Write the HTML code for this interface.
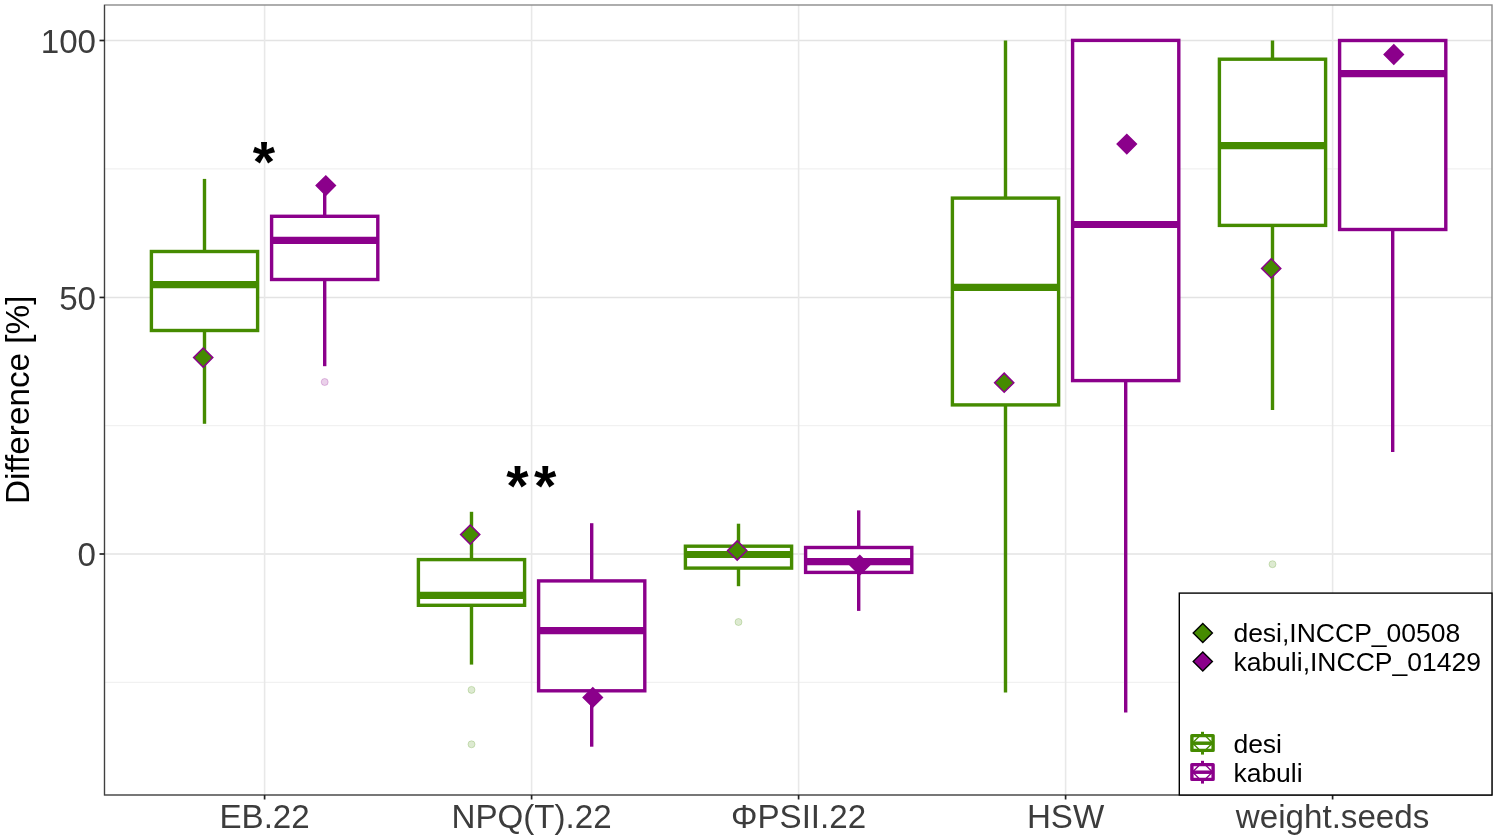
<!DOCTYPE html>
<html lang="en"><head><meta charset="utf-8"><title>Difference [%] boxplot</title>
<style>html,body{margin:0;padding:0;background:#fff;}body{width:1498px;height:840px;overflow:hidden;}svg{display:block;}text{font-family:"Liberation Sans",Arial,Helvetica,sans-serif;}</style></head><body>
<svg width="1498" height="840" viewBox="0 0 1498 840">
<rect x="0" y="0" width="1498" height="840" fill="#ffffff"/>
<g stroke="#f1f1f1" stroke-width="1.4">
<line x1="104.5" x2="1492.0" y1="168.9" y2="168.9"/>
<line x1="104.5" x2="1492.0" y1="425.6" y2="425.6"/>
<line x1="104.5" x2="1492.0" y1="682.4" y2="682.4"/>
</g>
<g stroke="#e3e3e3" stroke-width="1.6">
<line x1="104.5" x2="1492.0" y1="40.5" y2="40.5"/>
<line x1="104.5" x2="1492.0" y1="297.45" y2="297.45"/>
<line x1="104.5" x2="1492.0" y1="554.0" y2="554.0"/>
</g>
<g stroke="#e8e8e8" stroke-width="1.6">
<line x1="264.6" x2="264.6" y1="5.0" y2="795.0"/>
<line x1="531.6" x2="531.6" y1="5.0" y2="795.0"/>
<line x1="798.6" x2="798.6" y1="5.0" y2="795.0"/>
<line x1="1065.6" x2="1065.6" y1="5.0" y2="795.0"/>
<line x1="1332.6" x2="1332.6" y1="5.0" y2="795.0"/>
</g>
<g stroke="#458B00" fill="none">
<line x1="204.5" x2="204.5" y1="178.9" y2="251.5" stroke-width="3.4"/>
<line x1="204.5" x2="204.5" y1="330.5" y2="423.8" stroke-width="3.4"/>
<rect x="151.4" y="251.5" width="106.2" height="79.0" fill="#ffffff" stroke-width="3.4"/>
<line x1="151.4" x2="257.6" y1="284.6" y2="284.6" stroke-width="7.2"/>
</g>
<g stroke="#8B008B" fill="none">
<line x1="324.7" x2="324.7" y1="183.0" y2="216.3" stroke-width="3.4"/>
<line x1="324.7" x2="324.7" y1="279.5" y2="366.2" stroke-width="3.4"/>
<rect x="271.6" y="216.3" width="106.2" height="63.2" fill="#ffffff" stroke-width="3.4"/>
<line x1="271.6" x2="377.8" y1="240.4" y2="240.4" stroke-width="7.2"/>
</g>
<circle cx="324.7" cy="382.0" r="3.5" fill="#8B008B" fill-opacity="0.18" stroke="#8B008B" stroke-opacity="0.22" stroke-width="1"/>
<g stroke="#458B00" fill="none">
<line x1="471.5" x2="471.5" y1="511.8" y2="559.6" stroke-width="3.4"/>
<line x1="471.5" x2="471.5" y1="605.3" y2="664.6" stroke-width="3.4"/>
<rect x="418.4" y="559.6" width="106.2" height="45.7" fill="#ffffff" stroke-width="3.4"/>
<line x1="418.4" x2="524.6" y1="595.3" y2="595.3" stroke-width="7.2"/>
</g>
<circle cx="471.5" cy="689.9" r="3.5" fill="#458B00" fill-opacity="0.18" stroke="#458B00" stroke-opacity="0.22" stroke-width="1"/>
<circle cx="471.5" cy="744.3" r="3.5" fill="#458B00" fill-opacity="0.18" stroke="#458B00" stroke-opacity="0.22" stroke-width="1"/>
<g stroke="#8B008B" fill="none">
<line x1="591.7" x2="591.7" y1="523.2" y2="580.9" stroke-width="3.4"/>
<line x1="591.7" x2="591.7" y1="690.8" y2="746.7" stroke-width="3.4"/>
<rect x="538.6" y="580.9" width="106.2" height="109.9" fill="#ffffff" stroke-width="3.4"/>
<line x1="538.6" x2="644.8" y1="630.7" y2="630.7" stroke-width="7.2"/>
</g>
<g stroke="#458B00" fill="none">
<line x1="738.5" x2="738.5" y1="523.7" y2="546.2" stroke-width="3.4"/>
<line x1="738.5" x2="738.5" y1="568.1" y2="586.2" stroke-width="3.4"/>
<rect x="685.4" y="546.2" width="106.2" height="21.9" fill="#ffffff" stroke-width="3.4"/>
<line x1="685.4" x2="791.6" y1="554.5" y2="554.5" stroke-width="7.2"/>
</g>
<circle cx="738.5" cy="622.0" r="3.5" fill="#458B00" fill-opacity="0.18" stroke="#458B00" stroke-opacity="0.22" stroke-width="1"/>
<g stroke="#8B008B" fill="none">
<line x1="858.7" x2="858.7" y1="510.4" y2="547.5" stroke-width="3.4"/>
<line x1="858.7" x2="858.7" y1="572.4" y2="610.9" stroke-width="3.4"/>
<rect x="805.6" y="547.5" width="106.2" height="24.9" fill="#ffffff" stroke-width="3.4"/>
<line x1="805.6" x2="911.8" y1="561.7" y2="561.7" stroke-width="7.2"/>
</g>
<g stroke="#458B00" fill="none">
<line x1="1005.5" x2="1005.5" y1="40.4" y2="198.1" stroke-width="3.4"/>
<line x1="1005.5" x2="1005.5" y1="404.9" y2="692.4" stroke-width="3.4"/>
<rect x="952.4" y="198.1" width="106.2" height="206.8" fill="#ffffff" stroke-width="3.4"/>
<line x1="952.4" x2="1058.6" y1="287.4" y2="287.4" stroke-width="7.2"/>
</g>
<g stroke="#8B008B" fill="none">
<line x1="1125.7" x2="1125.7" y1="380.6" y2="712.6" stroke-width="3.4"/>
<rect x="1072.6" y="40.4" width="106.2" height="340.2" fill="#ffffff" stroke-width="3.4"/>
<line x1="1072.6" x2="1178.8" y1="224.5" y2="224.5" stroke-width="7.2"/>
</g>
<g stroke="#458B00" fill="none">
<line x1="1272.5" x2="1272.5" y1="40.5" y2="59.2" stroke-width="3.4"/>
<line x1="1272.5" x2="1272.5" y1="225.4" y2="410.0" stroke-width="3.4"/>
<rect x="1219.4" y="59.2" width="106.2" height="166.2" fill="#ffffff" stroke-width="3.4"/>
<line x1="1219.4" x2="1325.6" y1="145.7" y2="145.7" stroke-width="7.2"/>
</g>
<circle cx="1272.5" cy="564.2" r="3.5" fill="#458B00" fill-opacity="0.18" stroke="#458B00" stroke-opacity="0.22" stroke-width="1"/>
<g stroke="#8B008B" fill="none">
<line x1="1392.7" x2="1392.7" y1="229.5" y2="452.0" stroke-width="3.4"/>
<rect x="1339.6" y="40.5" width="106.2" height="189.0" fill="#ffffff" stroke-width="3.4"/>
<line x1="1339.6" x2="1445.8" y1="73.7" y2="73.7" stroke-width="7.2"/>
</g>
<polygon points="203.2,348.0 212.8,357.6 203.2,367.2 193.6,357.6" fill="#458B00" stroke="#8B008B" stroke-width="1.5" stroke-linejoin="miter"/>
<polygon points="325.8,176.0 335.4,185.6 325.8,195.2 316.2,185.6" fill="#8B008B" stroke="#8B008B" stroke-width="1.5" stroke-linejoin="miter"/>
<polygon points="470.2,525.0 479.8,534.6 470.2,544.2 460.6,534.6" fill="#458B00" stroke="#8B008B" stroke-width="1.5" stroke-linejoin="miter"/>
<polygon points="592.8,687.8 602.4,697.4 592.8,707.0 583.2,697.4" fill="#8B008B" stroke="#8B008B" stroke-width="1.5" stroke-linejoin="miter"/>
<polygon points="737.2,540.9 746.8,550.5 737.2,560.1 727.6,550.5" fill="#458B00" stroke="#8B008B" stroke-width="1.5" stroke-linejoin="miter"/>
<polygon points="859.8,555.6 869.4,565.2 859.8,574.8 850.2,565.2" fill="#8B008B" stroke="#8B008B" stroke-width="1.5" stroke-linejoin="miter"/>
<polygon points="1004.2,373.1 1013.8,382.7 1004.2,392.3 994.6,382.7" fill="#458B00" stroke="#8B008B" stroke-width="1.5" stroke-linejoin="miter"/>
<polygon points="1126.8,134.5 1136.4,144.1 1126.8,153.7 1117.2,144.1" fill="#8B008B" stroke="#8B008B" stroke-width="1.5" stroke-linejoin="miter"/>
<polygon points="1271.2,258.8 1280.8,268.4 1271.2,278.0 1261.6,268.4" fill="#458B00" stroke="#8B008B" stroke-width="1.5" stroke-linejoin="miter"/>
<polygon points="1393.8,44.9 1403.4,54.5 1393.8,64.1 1384.2,54.5" fill="#8B008B" stroke="#8B008B" stroke-width="1.5" stroke-linejoin="miter"/>
<text x="252.7" y="182.0" font-size="57.4" font-weight="bold" fill="#000">*</text>
<text x="506.2" y="505.7" font-size="57.4" font-weight="bold" letter-spacing="5.4" fill="#000">**</text>
<rect x="104.5" y="5.0" width="1387.5" height="790.0" fill="none" stroke="#8c8c8c" stroke-width="1.4"/>
<path d="M104.5,5.0 V795.0 H1492.0" fill="none" stroke="#404040" stroke-width="1.15"/>
<g stroke="#222222" stroke-width="1.7">
<line x1="99.5" x2="104.5" y1="40.5" y2="40.5"/>
<line x1="99.5" x2="104.5" y1="297.45" y2="297.45"/>
<line x1="99.5" x2="104.5" y1="554.0" y2="554.0"/>
<line x1="264.6" x2="264.6" y1="795.0" y2="799.5"/>
<line x1="531.6" x2="531.6" y1="795.0" y2="799.5"/>
<line x1="798.6" x2="798.6" y1="795.0" y2="799.5"/>
<line x1="1065.6" x2="1065.6" y1="795.0" y2="799.5"/>
<line x1="1332.6" x2="1332.6" y1="795.0" y2="799.5"/>
</g>
<g font-size="33.15" fill="#3c3c3c">
<text x="96" y="52.9" text-anchor="end">100</text>
<text x="96" y="309.8" text-anchor="end">50</text>
<text x="96" y="566.4" text-anchor="end">0</text>
<text x="264.6" y="828.0" text-anchor="middle">EB.22</text>
<text x="531.6" y="828.0" text-anchor="middle">NPQ(T).22</text>
<text x="798.6" y="828.0" text-anchor="middle">ΦPSII.22</text>
<text x="1065.6" y="828.0" text-anchor="middle">HSW</text>
<text x="1332.6" y="828.0" text-anchor="middle">weight.seeds</text>
</g>
<text transform="translate(28.6,399.8) rotate(-90)" font-size="33.3" text-anchor="middle" fill="#000">Difference [%]</text>
<rect x="1179.3" y="593.1" width="312.7" height="201.9" fill="#ffffff" stroke="#000000" stroke-width="1.4"/>
<polygon points="1202.8,623.4 1212.4,633.0 1202.8,642.6 1193.2,633.0" fill="#458B00" stroke="#000" stroke-width="1.4" stroke-linejoin="miter"/>
<polygon points="1202.8,651.9 1212.4,661.5 1202.8,671.1 1193.2,661.5" fill="#8B008B" stroke="#000" stroke-width="1.4" stroke-linejoin="miter"/>
<g font-size="26.5" fill="#000">
<text x="1233.4" y="642.2">desi,INCCP_00508</text>
<text x="1233.4" y="670.7">kabuli,INCCP_01429</text>
<text x="1233.4" y="752.8">desi</text>
<text x="1233.4" y="781.9">kabuli</text>
</g>
<g stroke="#458B00" fill="none" stroke-linejoin="round"><line x1="1202.5" x2="1202.5" y1="731.8" y2="754.6" stroke-width="3"/><rect x="1191.9" y="735.6" width="21.2" height="14.8" fill="#ffffff" stroke-width="3.4"/><clipPath id="c743"><rect x="1191.9" y="735.6" width="21.2" height="14.8"/></clipPath><polygon clip-path="url(#c743)" points="1202.5,733.0 1212.5,743.0 1202.5,753.0 1192.5,743.0" stroke-width="1.4"/><line x1="1191.9" x2="1213.1" y1="743.2" y2="743.2" stroke-width="3.5"/></g>
<g stroke="#8B008B" fill="none" stroke-linejoin="round"><line x1="1202.5" x2="1202.5" y1="760.8" y2="783.6" stroke-width="3"/><rect x="1191.9" y="764.6" width="21.2" height="14.8" fill="#ffffff" stroke-width="3.4"/><clipPath id="c772"><rect x="1191.9" y="764.6" width="21.2" height="14.8"/></clipPath><polygon clip-path="url(#c772)" points="1202.5,762.0 1212.5,772.0 1202.5,782.0 1192.5,772.0" stroke-width="1.4"/><line x1="1191.9" x2="1213.1" y1="772.2" y2="772.2" stroke-width="3.5"/></g>
</svg></body></html>
